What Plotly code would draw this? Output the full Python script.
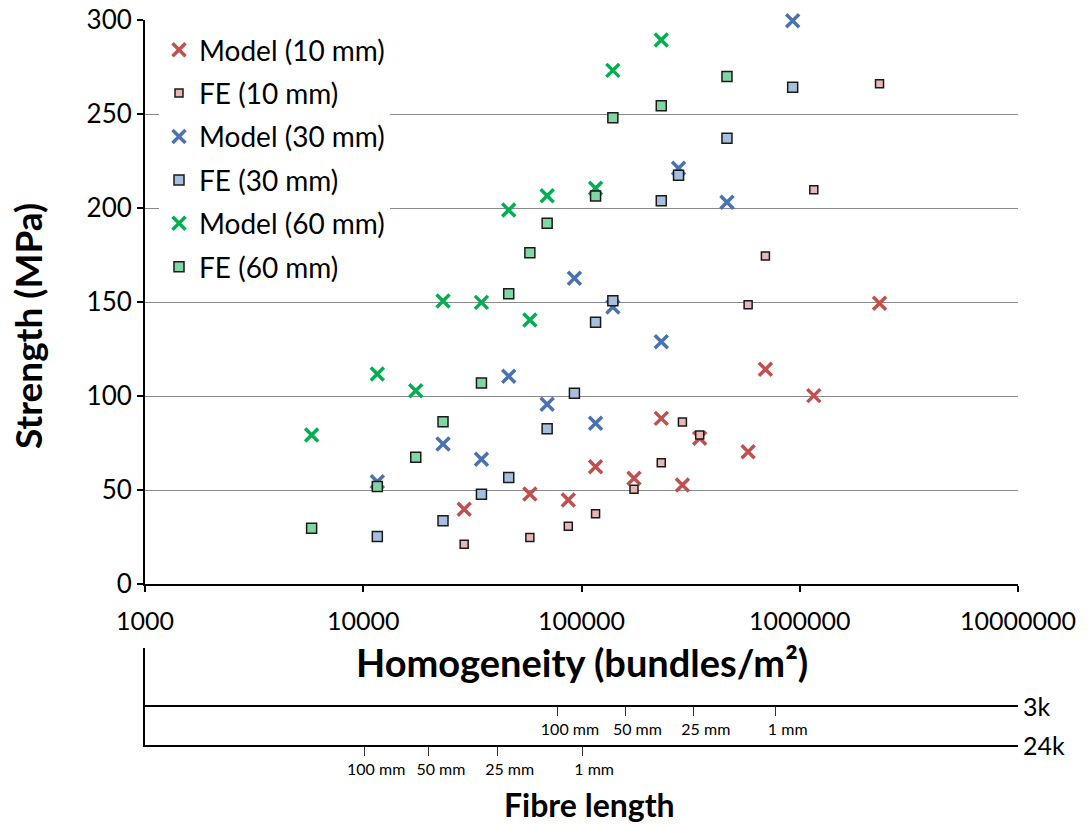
import plotly.graph_objects as go

# ---- data ----
hom_10 = [29000, 58000, 87000, 116000, 174000, 232000, 290000, 348000, 580000, 696000, 1160000, 2320000]
hom_30 = [11600, 23200, 34800, 46400, 69600, 92800, 116000, 139200, 232000, 278400, 464000, 928000]
hom_60 = [5800, 11600, 17400, 23200, 34800, 46400, 58000, 69600, 116000, 139200, 232000, 464000]

model_10 = [39.7, 47.9, 44.7, 62.4, 56.2, 88.1, 52.7, 77.5, 70.4, 114.2, 100.2, 149.3]
fe_10 = [21.1, 24.8, 30.7, 37.4, 50.4, 64.5, 86.2, 79.3, 148.6, 174.5, 209.7, 266.1]
model_30 = [54.4, 74.5, 66.3, 110.5, 95.6, 162.6, 85.5, 147.3, 128.9, 221.1, 203.0, 299.6]
fe_30 = [25.2, 33.7, 47.7, 56.7, 82.6, 101.4, 139.2, 150.7, 203.9, 217.4, 237.1, 264.2]
model_60 = [79.3, 111.7, 102.8, 150.5, 149.8, 198.9, 140.4, 206.5, 210.5, 273.2, 289.4, None]
fe_60 = [29.6, 51.8, 67.4, 86.3, 106.9, 154.4, 176.2, 191.9, 206.4, 248.0, 254.4, 269.9]

x_tickvals = [1000, 10000, 100000, 1000000, 10000000]
x_ticktext = ["1000", "10000", "100000", "1000000", "10000000"]
y_tickvals = [0, 50, 100, 150, 200, 250, 300]

fibre_labels = ["100 mm", "50 mm", "25 mm", "1 mm"]
fibre_3k = [78000, 159000, 327000, 776000]
fibre_24k = [10100, 20000, 41300, 100700]

W, H = 1089, 825
FONT = "Lato"

fig = go.Figure()

def model(x, y, name, color):
    return go.Scatter(x=x, y=y, mode="markers", name=name, legendgroup=name,
                      cliponaxis=False,
                      marker=dict(symbol="x-thin", size=13, color=color,
                                  line=dict(color=color, width=3.5)))

def fe(x, y, name, fill, size):
    return go.Scatter(x=x, y=y, mode="markers", name=name, legendgroup=name,
                      cliponaxis=False,
                      marker=dict(symbol="square", size=size, color=fill,
                                  line=dict(color="#1a1a1a", width=1.5)))

fig.add_trace(model(hom_10, model_10, "Model (10 mm)", "#C0504D"))
fig.add_trace(fe(hom_10, fe_10, "FE (10 mm)", "#E8B7B6", 8))
fig.add_trace(model(hom_30, model_30, "Model (30 mm)", "#4A72AE"))
fig.add_trace(fe(hom_30, fe_30, "FE (30 mm)", "#A7BFDF", 10))
fig.add_trace(model(hom_60, model_60, "Model (60 mm)", "#00B050"))
fig.add_trace(fe(hom_60, fe_60, "FE (60 mm)", "#80D7A2", 10))

# helper traces so the fibre-length axes exist
fig.add_trace(go.Scatter(x=[None], y=[None], xaxis="x2", yaxis="y2", showlegend=False, hoverinfo="skip"))
fig.add_trace(go.Scatter(x=[None], y=[None], xaxis="x3", yaxis="y2", showlegend=False, hoverinfo="skip"))

x_dom = [145 / W, 1018 / W]

fig.update_layout(
    template="none",
    width=W, height=H, autosize=False,
    margin=dict(l=0, r=0, t=0, b=0, autoexpand=False),
    paper_bgcolor="white", plot_bgcolor="rgba(0,0,0,0)",
    font=dict(family=FONT, color="black"),
    showlegend=True,
    legend=dict(x=159 / W, y=1 - 25 / H, xanchor="left", yanchor="top",
                bgcolor="white", borderwidth=0,
                font=dict(family=FONT, size=28, color="black"),
                traceorder="grouped", tracegroupgap=4),
    xaxis=dict(type="log", range=[3, 7], domain=x_dom, anchor="y", automargin=False,
               tickvals=x_tickvals, ticktext=x_ticktext,
               tickfont=dict(size=25, family=FONT),
               ticklabelstandoff=8,
               ticks="outside", ticklen=6, tickwidth=1.5, tickcolor="black",
               showline=True, linecolor="black", linewidth=2,
               showgrid=False, zeroline=False),
    yaxis=dict(range=[0, 300], domain=[1 - 584 / H, 1 - 20 / H], anchor="x", automargin=False,
               tickvals=y_tickvals,
               tickfont=dict(size=26, family=FONT),
               ticks="outside", ticklen=6, tickwidth=1.5, tickcolor="black",
               showline=True, linecolor="black", linewidth=2,
               showgrid=True, gridcolor="#8a8a8a", gridwidth=1,
               zeroline=False),
    xaxis2=dict(type="log", range=[3, 7], domain=x_dom, anchor="y2", automargin=False,
                tickvals=fibre_24k, ticktext=fibre_labels,
                tickfont=dict(size=16, family=FONT),
                ticklabelshift=12,
                ticks="outside", ticklen=9, tickwidth=1.2, tickcolor="#333",
                showline=True, linecolor="black", linewidth=1.5,
                showgrid=False, zeroline=False),
    xaxis3=dict(type="log", range=[3, 7], domain=x_dom, anchor="free", automargin=False,
                overlaying="x2", position=1 - 706 / H,
                tickvals=fibre_3k, ticktext=fibre_labels,
                tickfont=dict(size=16, family=FONT),
                ticklabelshift=12,
                ticks="outside", ticklen=9, tickwidth=1.2, tickcolor="#333",
                showline=True, linecolor="black", linewidth=1.5,
                showgrid=False, zeroline=False),
    yaxis2=dict(range=[0, 1], domain=[1 - 745 / H, 1 - 648 / H], anchor="x2", automargin=False,
                showline=True, linecolor="black", linewidth=1.5,
                showticklabels=False, ticks="", showgrid=False, zeroline=False),
    annotations=[
        dict(text="<b>Strength (MPa)</b>", x=27 / W, y=1 - 326 / H, xref="paper", yref="paper",
             textangle=-90, showarrow=False, font=dict(size=37, family=FONT),
             xanchor="center", yanchor="middle"),
        dict(text="<b>Homogeneity (bundles/m²)</b>", x=582 / W, y=1 - 662 / H, xref="paper", yref="paper",
             showarrow=False, font=dict(size=38, family=FONT),
             xanchor="center", yanchor="middle"),
        dict(text="<b>Fibre length</b>", x=589 / W, y=1 - 804 / H, xref="paper", yref="paper",
             showarrow=False, font=dict(size=32, family=FONT),
             xanchor="center", yanchor="middle"),
        dict(text="3k", x=1021 / W, y=1 - 706 / H, xref="paper", yref="paper",
             showarrow=False, font=dict(size=25, family=FONT),
             xanchor="left", yanchor="middle"),
        dict(text="24k", x=1021 / W, y=1 - 745 / H, xref="paper", yref="paper",
             showarrow=False, font=dict(size=25, family=FONT),
             xanchor="left", yanchor="middle"),
    ],
)

fig.write_html("out.html")
